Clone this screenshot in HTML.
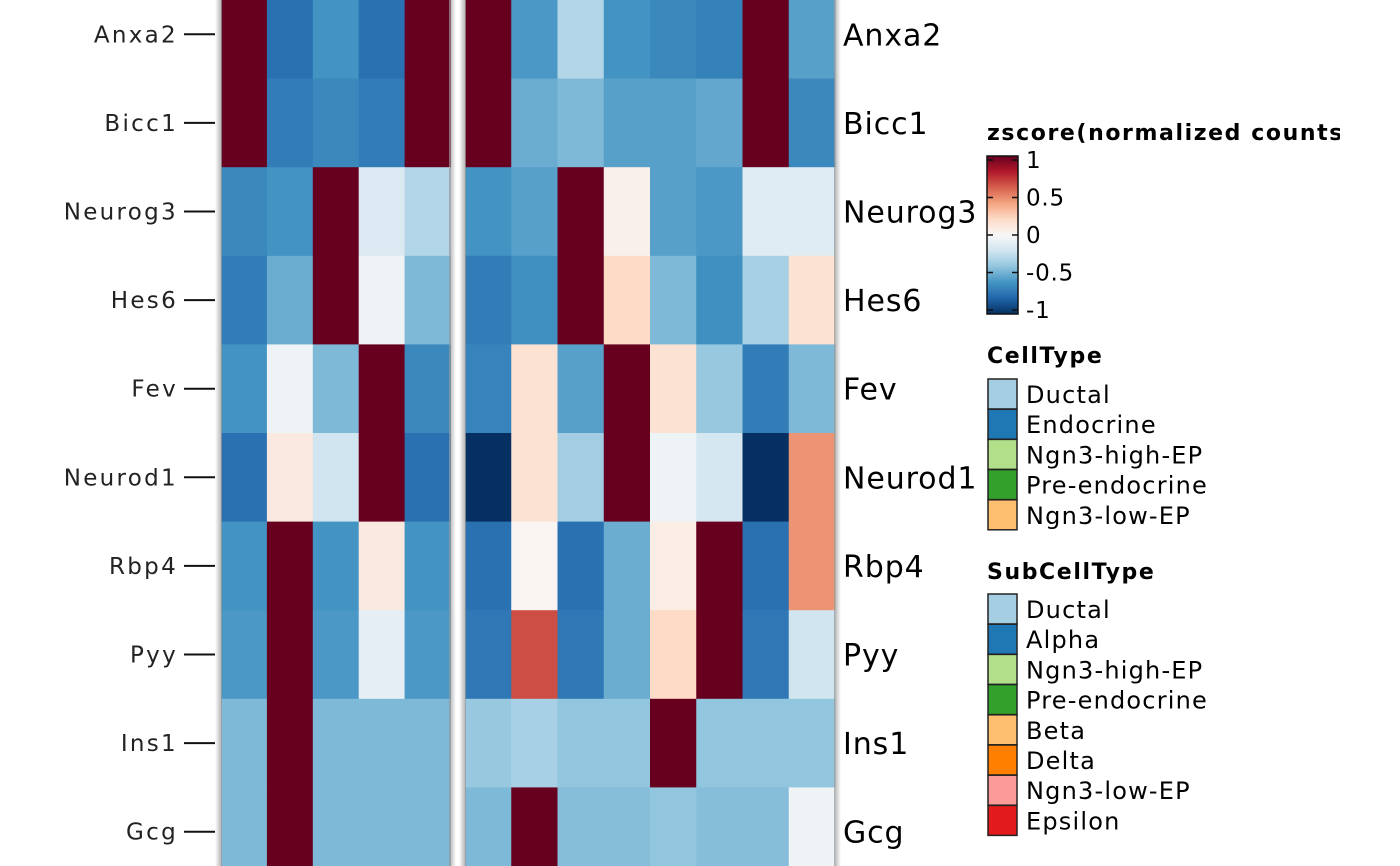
<!DOCTYPE html>
<html><head><meta charset="utf-8"><style>
body{margin:0;background:#fff;}
svg{display:block;font-family:"DejaVu Sans","Liberation Sans",sans-serif;}
</style></head><body>
<svg id="chart" width="1400" height="866" viewBox="0 0 1400 866" xmlns="http://www.w3.org/2000/svg">
<defs>
<linearGradient id="cbar" x1="0" y1="1" x2="0" y2="0">
<stop offset="0" stop-color="#053061"/><stop offset="0.1" stop-color="#2166ac"/><stop offset="0.2" stop-color="#4393c3"/><stop offset="0.3" stop-color="#92c5de"/><stop offset="0.4" stop-color="#d1e5f0"/><stop offset="0.5" stop-color="#f7f7f7"/><stop offset="0.6" stop-color="#fddbc7"/><stop offset="0.7" stop-color="#f4a582"/><stop offset="0.8" stop-color="#d6604d"/><stop offset="0.9" stop-color="#b2182b"/><stop offset="1" stop-color="#67001f"/>
</linearGradient>
<linearGradient id="shadeL" x1="0" x2="1"><stop offset="0" stop-color="#999" stop-opacity="0.8"/><stop offset="1" stop-color="#999" stop-opacity="0"/></linearGradient>
<linearGradient id="shadeR" x1="0" x2="1"><stop offset="0" stop-color="#999" stop-opacity="0"/><stop offset="1" stop-color="#999" stop-opacity="0.8"/></linearGradient>
</defs>
<g id="cells"></g>
<g id="labels"></g>
<g id="legend"></g>
</svg>
<script>
const genes = ["Anxa2","Bicc1","Neurog3","Hes6","Fev","Neurod1","Rbp4","Pyy","Ins1","Gcg"];
const leftValues = [
[1,-0.75,-0.6,-0.75,1],
[1,-0.7,-0.65,-0.7,1],
[-0.65,-0.6,1,-0.15,-0.3],
[-0.7,-0.5,1,-0.05,-0.45],
[-0.6,-0.05,-0.45,1,-0.65],
[-0.75,0.1,-0.2,1,-0.75],
[-0.6,1,-0.6,0.1,-0.6],
[-0.58,1,-0.58,-0.1,-0.58],
[-0.45,1,-0.45,-0.45,-0.45],
[-0.45,1,-0.45,-0.45,-0.45]];
const rightValues = [
[1,-0.58,-0.3,-0.6,-0.65,-0.68,1,-0.55],
[1,-0.5,-0.45,-0.55,-0.55,-0.52,1,-0.65],
[-0.6,-0.55,1,0.05,-0.55,-0.58,-0.12,-0.12],
[-0.7,-0.62,1,0.2,-0.45,-0.62,-0.33,0.15],
[-0.67,0.15,-0.55,1,0.15,-0.38,-0.7,-0.45],
[-1,0.15,-0.35,1,-0.05,-0.18,-1,0.45],
[-0.75,0.02,-0.75,-0.5,0.07,1,-0.75,0.45],
[-0.72,0.65,-0.72,-0.5,0.2,1,-0.72,-0.2],
[-0.38,-0.33,-0.4,-0.4,1,-0.4,-0.4,-0.4],
[-0.45,1,-0.43,-0.43,-0.4,-0.43,-0.43,-0.05]];
const cbTicks = [1,0.5,0,-0.5,-1];
const cbTickLabels = ["1","0.5","0","-0.5","-1"];
const cellTypes = ["Ductal","Endocrine","Ngn3-high-EP","Pre-endocrine","Ngn3-low-EP"];
const cellTypeColors = ["#a6cee3","#1f78b4","#b2df8a","#33a02c","#fdbf6f"];
const subTypes = ["Ductal","Alpha","Ngn3-high-EP","Pre-endocrine","Beta","Delta","Ngn3-low-EP","Epsilon"];
const subTypeColors = ["#a6cee3","#1f78b4","#b2df8a","#33a02c","#fdbf6f","#ff7f00","#fb9a99","#e31a1c"];

const NS="http://www.w3.org/2000/svg";
const stops=["#053061","#2166ac","#4393c3","#92c5de","#d1e5f0","#f7f7f7","#fddbc7","#f4a582","#d6604d","#b2182b","#67001f"];
function hex(h){return [1,3,5].map(i=>parseInt(h.substr(i,2),16));}
function color(v){v=Math.max(-1,Math.min(1,v));const t=(v+1)/2*10;const i=Math.min(9,Math.floor(t));const f=t-i;const a=hex(stops[i]),b=hex(stops[i+1]);return "rgb("+a.map((x,k)=>Math.round(x+(b[k]-x)*f)).join(",")+")";}
const rowH=88.6, top0=-10;
function yRow(i){return top0+i*rowH;}
const L={x:221,w:229.5}, R={x:465,w:370};
function mk(tag,attrs,parent){const e=document.createElementNS(NS,tag);for(const k in attrs)e.setAttribute(k,attrs[k]);parent.appendChild(e);return e;}
const cells=document.getElementById('cells');
function drawHeat(vals,box,name){
  const nc=vals[0].length, cw=box.w/nc;
  vals.forEach((row,i)=>row.forEach((v,j)=>{
    const r=mk('rect',{x:box.x+j*cw,y:yRow(i),width:cw+0.5,height:rowH+0.5,fill:color(v)},cells);
    
    
  }));
}
drawHeat(leftValues,L,'left-heatmap');
drawHeat(rightValues,R,'right-heatmap');
mk('rect',{x:215,y:0,width:7,height:866,fill:"url(#shadeR)"},cells);
mk('rect',{x:449,y:0,width:7,height:866,fill:"url(#shadeL)"},cells);
mk('rect',{x:459,y:0,width:7,height:866,fill:"url(#shadeR)"},cells);
mk('rect',{x:834,y:0,width:7,height:866,fill:"url(#shadeL)"},cells);
const labels=document.getElementById('labels');
genes.forEach((g,i)=>{
  const cy=yRow(i)+rowH/2;
  const t=mk('text',{x:178,y:cy+8,'text-anchor':'end','font-size':23,'letter-spacing':'2.3',fill:'#222'},labels);t.textContent=g;
  
  
  mk('line',{x1:184,x2:215,y1:cy,y2:cy,stroke:'#111','stroke-width':2},labels);
  const t2=mk('text',{x:843,y:cy+11,'font-size':30,'letter-spacing':'0.9',fill:'#000'},labels);t2.textContent=g;
  
  
});
const lg=document.getElementById('legend');
const ttl=mk('text',{x:987,y:140,'font-size':22,'font-weight':'bold','letter-spacing':'1.6'},lg);ttl.textContent="zscore(normalized counts)";


mk('rect',{x:1340,y:110,width:60,height:40,fill:'#fff'},lg);
const cbTop=156,cbBot=314;
mk('rect',{x:987,y:cbTop,width:31,height:cbBot-cbTop,fill:'url(#cbar)',stroke:'#111','stroke-width':1.5},lg);
function cbY(v){return cbBot-4-(v+1)/2*(cbBot-cbTop-8);}
cbTicks.forEach((v,i)=>{
  const y=cbY(v);
  mk('line',{x1:987,x2:993,y1:y,y2:y,stroke:'#111','stroke-width':1.5},lg);
  mk('line',{x1:1012,x2:1018,y1:y,y2:y,stroke:'#111','stroke-width':1.5},lg);
  const t=mk('text',{x:1026,y:y+8,'font-size':23,'letter-spacing':'0.8'},lg);t.textContent=cbTickLabels[i];
  
  
});
function catLegend(title,names,cols,ty,by){
  const t=mk('text',{x:987,y:ty,'font-size':22,'font-weight':'bold','letter-spacing':'1.6'},lg);t.textContent=title;
  
  
  names.forEach((n,i)=>{
    const y=by+i*30.2;
    const r=mk('rect',{x:988,y:y,width:29,height:30,fill:cols[i],stroke:'#222','stroke-width':1.5},lg);
    
    
    const tx=mk('text',{x:1026,y:y+24,'font-size':24,'letter-spacing':'1.2'},lg);tx.textContent=n;
    
    
  });
}
catLegend("CellType",cellTypes,cellTypeColors,363,379);
catLegend("SubCellType",subTypes,subTypeColors,579,594);
</script>
</body></html>
